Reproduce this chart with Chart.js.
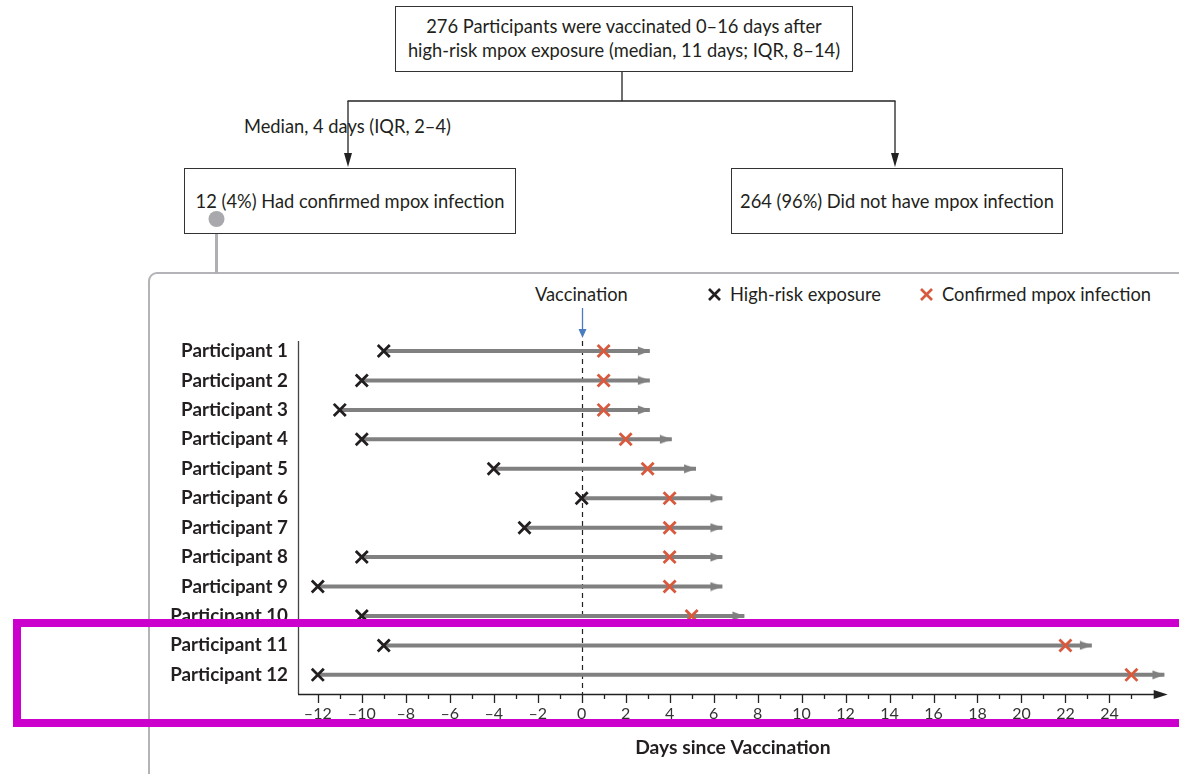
<!DOCTYPE html>
<html>
<head>
<meta charset="utf-8">
<script src="https://cdn.jsdelivr.net/npm/chart.js@4.4.1/dist/chart.umd.min.js"></script>
<style>
  html, body { margin:0; padding:0; background:#fff; overflow:hidden; }
  body { width:1179px; height:774px; position:relative; font-family:"Lato","Open Sans",sans-serif; color:#231f20; }
  .box { position:absolute; border:1.3px solid #333; box-sizing:border-box; display:flex; align-items:center; justify-content:center; text-align:center; font-size:18.3px; line-height:24px; background:#fff; }
  .txt { position:absolute; font-size:18.3px; white-space:nowrap; }
  #panel { position:absolute; left:148px; top:272px; width:1100px; height:520px; border:2.5px solid #b4b4b8; border-radius:9px; box-sizing:border-box; }
  #chartWrap { position:absolute; left:0; top:0; width:1179px; height:774px; }
  #highlight { position:absolute; left:13px; top:619px; width:1200px; height:108px; border:8px solid #cc00cc; box-sizing:border-box; z-index:10; }
  svg.overlay { position:absolute; left:0; top:0; }
</style>
</head>
<body>
<div id="panel"></div>
<svg class="overlay" width="1179" height="774">
  <line x1="622" y1="71" x2="622" y2="101" stroke="#222" stroke-width="1.3"/>
  <line x1="347.5" y1="101" x2="895.5" y2="101" stroke="#222" stroke-width="1.3"/>
  <line x1="348" y1="101" x2="348" y2="156" stroke="#222" stroke-width="1.3"/>
  <polygon points="344,153 352,153 348,167" fill="#222"/>
  <line x1="895" y1="101" x2="895" y2="156" stroke="#222" stroke-width="1.3"/>
  <polygon points="891,153 899,153 895,167" fill="#222"/>
  <line x1="216.5" y1="219" x2="216.5" y2="274" stroke="#b0b0b4" stroke-width="3"/>
</svg>
<div class="box" style="left:395px;top:6px;width:458px;height:66px;padding-bottom:3px;">276 Participants were vaccinated 0–16 days after<br>high-risk mpox exposure (median, 11 days; IQR, 8–14)</div>
<div class="txt" style="left:244px;top:115px;">Median, 4 days (IQR, 2–4)</div>
<div class="box" style="left:184px;top:168px;width:332px;height:66px;">12 (4%) Had confirmed mpox infection</div>
<div class="box" style="left:731px;top:168px;width:332px;height:66px;">264 (96%) Did not have mpox infection</div>
<svg class="overlay" width="1179" height="774">
  <circle cx="216.5" cy="219" r="8" fill="#a9a9ad"/>
  <g stroke="#231f20" stroke-width="2.6" stroke-linecap="butt">
    <line x1="709" y1="289" x2="720" y2="300"/><line x1="720" y1="289" x2="709" y2="300"/>
  </g>
  <g stroke="#d85a3e" stroke-width="2.6">
    <line x1="921" y1="289" x2="932" y2="300"/><line x1="932" y1="289" x2="921" y2="300"/>
  </g>
</svg>
<div class="txt" style="left:535px;top:283px;">Vaccination</div>
<div class="txt" style="left:730px;top:283px;">High-risk exposure</div>
<div class="txt" style="left:942px;top:283px;">Confirmed mpox infection</div>
<div id="chartWrap"><canvas id="c" width="1179" height="774"></canvas></div>
<div id="highlight"></div>
<script>
// ---- data ----
const participants = ["Participant 1","Participant 2","Participant 3","Participant 4","Participant 5","Participant 6",
  "Participant 7","Participant 8","Participant 9","Participant 10","Participant 11","Participant 12"];
const exposureDay  = [-9, -10, -11, -10, -4, 0, -2.6, -10, -12, -10, -9, -12];
const infectionDay = [1, 1, 1, 2, 3, 4, 4, 4, 4, 5, 22, 25];
const arrowEndDay  = [3.1, 3.1, 3.1, 4.1, 5.2, 6.4, 6.4, 6.4, 6.4, 7.4, 23.2, 26.5];
const vaccinationDay = 0;
const xTickValues = [-12,-11,-10,-9,-8,-7,-6,-5,-4,-3,-2,-1,0,1,2,3,4,5,6,7,8,9,10,11,12,13,14,15,16,17,18,19,20,21,22,23,24,25];
const xTickLabels = ["–12","","–10","","–8","","–6","","–4","","–2","","0","","2","","4","","6","","8","","10","","12","","14","","16","","18","","20","","22","","24",""];
const xAxisTitle = "Days since Vaccination";

// ---- build datasets ----
const lineData = [];
participants.forEach((p, i) => {
  lineData.push({x: exposureDay[i], y: i + 1});
  lineData.push({x: arrowEndDay[i], y: i + 1});
  lineData.push({x: null, y: null});
});
const arrowData = participants.map((p, i) => ({x: arrowEndDay[i], y: i + 1}));
const exposureData = participants.map((p, i) => ({x: exposureDay[i], y: i + 1}));
const infectionData = participants.map((p, i) => ({x: infectionDay[i], y: i + 1}));

// arrowhead image: tip at the center of the canvas
const ah = document.createElement('canvas');
ah.width = 26; ah.height = 10;
(function(){ const g = ah.getContext('2d'); g.fillStyle = '#808080';
  g.beginPath(); g.moveTo(13, 5); g.lineTo(1, 0.5); g.lineTo(1, 9.5); g.closePath(); g.fill(); })();

const axisPlugin = {
  id: 'axisPlugin',
  beforeDatasetsDraw(chart) {
    const {ctx, chartArea: a, scales: {x, y}} = chart;
    ctx.save();
    const vx = Math.round(x.getPixelForValue(vaccinationDay)) + 0.5;
    ctx.strokeStyle = '#222'; ctx.lineWidth = 1.2; ctx.setLineDash([5, 4]);
    ctx.beginPath(); ctx.moveTo(vx, a.top); ctx.lineTo(vx, a.bottom); ctx.stroke();
    ctx.setLineDash([]);
    ctx.restore();
  },
  afterDatasetsDraw(chart) {
    const {ctx, chartArea: a, scales: {x, y}} = chart;
    ctx.save();
    ctx.strokeStyle = '#444'; ctx.lineWidth = 1.3;
    ctx.beginPath(); ctx.moveTo(a.left + 0.5, a.top); ctx.lineTo(a.left + 0.5, a.bottom); ctx.stroke();
    const yb = a.bottom + 0.5;
    ctx.strokeStyle = '#222';
    ctx.beginPath(); ctx.moveTo(a.left, yb); ctx.lineTo(a.right - 10, yb); ctx.stroke();
    ctx.fillStyle = '#222';
    ctx.beginPath(); ctx.moveTo(a.right, yb); ctx.lineTo(a.right - 14, yb - 4.5); ctx.lineTo(a.right - 14, yb + 4.5); ctx.closePath(); ctx.fill();
    x.ticks.forEach((t) => {
      const px = Math.round(x.getPixelForValue(t.value)) + 0.5;
      const major = t.value % 2 === 0;
      ctx.beginPath(); ctx.moveTo(px, a.bottom); ctx.lineTo(px, a.bottom + (major ? 9 : 5)); ctx.stroke();
    });
    const vx = Math.round(x.getPixelForValue(vaccinationDay)) + 0.5;
    ctx.strokeStyle = '#4a7cc0'; ctx.fillStyle = '#4a7cc0'; ctx.lineWidth = 1.3;
    ctx.beginPath(); ctx.moveTo(vx, a.top - 33); ctx.lineTo(vx, a.top - 10); ctx.stroke();
    ctx.beginPath(); ctx.moveTo(vx - 4, a.top - 12); ctx.lineTo(vx + 4, a.top - 12); ctx.lineTo(vx, a.top - 3); ctx.closePath(); ctx.fill();
    ctx.restore();
  }
};

new Chart(document.getElementById('c'), {
  type: 'scatter',
  data: {
    datasets: [
      { type: 'line', data: lineData, borderColor: '#808080', borderWidth: 4, pointRadius: 0, spanGaps: false, order: 4 },
      { data: arrowData, pointStyle: ah, pointRadius: 6, order: 3 },
      { data: infectionData, pointStyle: 'crossRot', pointRadius: 8.5, borderColor: '#d85a3e', borderWidth: 2.8, order: 2 },
      { data: exposureData, pointStyle: 'crossRot', pointRadius: 8.5, borderColor: '#231f20', borderWidth: 2.8, order: 1 }
    ]
  },
  options: {
    responsive: false,
    animation: false,
    devicePixelRatio: 1,
    layout: { padding: { top: 341, right: 11, left: 0, bottom: 0 } },
    plugins: { legend: { display: false }, tooltip: { enabled: false } },
    scales: {
      x: {
        type: 'linear', min: -12.9, max: 26.65,
        grid: { display: false, drawTicks: true, tickLength: 9 },
        border: { display: false },
        afterBuildTicks: (s) => { s.ticks = xTickValues.map(v => ({value: v})); },
        afterFit: (s) => { s.height = 80; },
        ticks: { autoSkip: false, maxRotation: 0, padding: 1, color: '#333',
          font: { family: 'Lato', size: 16 },
          callback: (v) => { const k = xTickValues.indexOf(v); return k >= 0 ? xTickLabels[k] : ''; } },
        title: { display: true, text: xAxisTitle, color: '#231f20', font: { family: 'Lato', size: 19.3, weight: 'bold' }, padding: { top: 4, bottom: 15 } }
      },
      y: {
        type: 'linear', reverse: true, min: 0.66, max: 12.65,
        grid: { display: false, drawTicks: false },
        border: { display: false },
        afterBuildTicks: (s) => { s.ticks = participants.map((p, i) => ({value: i + 1})); },
        afterFit: (s) => { s.width = 298; },
        ticks: { autoSkip: false, padding: 10, color: '#231f20',
          font: { family: 'Lato', size: 18.8, weight: 'bold' },
          callback: (v) => participants[v - 1] }
      }
    }
  },
  plugins: [axisPlugin]
});
</script>
</body>
</html>
